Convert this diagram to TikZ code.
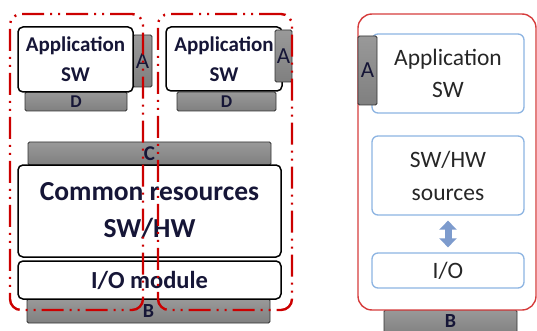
\documentclass[tikz,border=0pt]{standalone}
\usepackage{fontspec}
\setmainfont{Carlito}
\usetikzlibrary{arrows.meta}
\definecolor{ink}{RGB}{22,22,55}
\definecolor{partred}{RGB}{204,0,0}
\definecolor{framered}{RGB}{214,60,60}
\definecolor{boxblue}{RGB}{141,180,226}
\definecolor{arrowblue}{RGB}{125,155,205}
\tikzset{
  blackbox/.style={draw=black, line width=1.5pt, rounded corners=5pt, fill=white,
    text=ink, align=center, inner sep=0pt},
  graybar/.style={draw=black!80, line width=0.9pt, rounded corners=1.5pt,
    top color=gray!80, bottom color=gray, text=ink, inner sep=0pt},
  bluebox/.style={draw=boxblue, line width=1.3pt, rounded corners=6pt, fill=white,
    text=black!85, align=center, inner sep=0pt},
  partition/.style={draw=partred, line width=2.4pt, rounded corners=11pt,
    dash pattern=on 22pt off 6pt on 2pt off 6pt on 2pt off 6pt, inner sep=0pt},
  letter/.style={font=\fontsize{18}{18}\selectfont\bfseries},
  tabletter/.style={font=\fontsize{23}{23}\selectfont},
}
\begin{document}
\begin{tikzpicture}[x=1pt, y=-1pt]
\useasboundingbox (0,0) rectangle (537,331);

% left: first partition, application part
\node[graybar, minimum width=19pt, minimum height=52pt, tabletter] (tabA1) at (142.5,61) {A};
\node[graybar, minimum width=102pt, minimum height=19pt, letter] (D1) at (76,101.5) {\raisebox{-3pt}{D}};
\node[blackbox, minimum width=115pt, minimum height=65pt,
  font=\fontsize{21}{30}\selectfont\bfseries] (app1) at (75.5,59.5) {Application\\SW};

% left: second partition, application part
\node[graybar, minimum width=99pt, minimum height=19pt, letter] (D2) at (226.5,101.5) {\raisebox{-3pt}{D}};
\node[blackbox, minimum width=116pt, minimum height=64pt,
  font=\fontsize{21}{30}\selectfont\bfseries] (app2) at (224,59) {Application\\SW};
\node[graybar, minimum width=17pt, minimum height=52pt, tabletter] (tabA2) at (283.5,56) {A};

% left: shared platform
\node[graybar, minimum width=243pt, minimum height=23pt,
  font=\fontsize{21}{21}\selectfont\bfseries] (C) at (149.5,153.5) {\raisebox{-2pt}{C}};
\node[graybar, minimum width=243pt, minimum height=24pt,
  font=\fontsize{20}{20}\selectfont\bfseries] (B1) at (148.5,311) {\raisebox{-1pt}{B}};
\node[blackbox, minimum width=263pt, minimum height=92pt,
  font=\fontsize{27.5}{37}\selectfont\bfseries] (common) at (149.5,211) {Common resources\\SW/HW};
\node[blackbox, minimum width=263pt, minimum height=38pt,
  font=\fontsize{24.5}{24.5}\selectfont\bfseries] (iomod) at (149.5,280) {I/O module};

% partitions drawn over the shared platform
\node[partition, minimum width=133pt, minimum height=296pt] (part1) at (76.5,162) {};
\node[partition, minimum width=134pt, minimum height=296pt] (part2) at (225,162) {};

% right: single integrated module
\node[graybar, minimum width=133pt, minimum height=26pt,
  font=\fontsize{20}{20}\selectfont\bfseries] (BR) at (450.5,323) {\raisebox{3pt}{B}};
\node[draw=framered, line width=1.4pt, rounded corners=14pt, fill=white,
  minimum width=178pt, minimum height=296pt, inner sep=0pt] (frame) at (447,162) {};
\node[bluebox, minimum width=152pt, minimum height=79pt,
  font=\fontsize{23.5}{32}\selectfont] (appR) at (448,73.5) {Application\\SW};
\node[graybar, minimum width=19pt, minimum height=69pt, tabletter] (tabAR) at (367.5,70.5) {A};
\node[bluebox, minimum width=152pt, minimum height=79pt,
  font=\fontsize{23.5}{33}\selectfont] (swhw) at (448,175.5) {SW/HW\\sources};
\node[bluebox, minimum width=152pt, minimum height=35pt,
  font=\fontsize{23.5}{23.5}\selectfont] (ioR) at (448,270.5) {I/O};

\draw[arrowblue, line width=7pt,
  {Triangle[width=17pt,length=9pt]}-{Triangle[width=17pt,length=9pt]},
  shorten <=5pt, shorten >=5pt] (swhw.south) -- (ioR.north);
\end{tikzpicture}
\end{document}
